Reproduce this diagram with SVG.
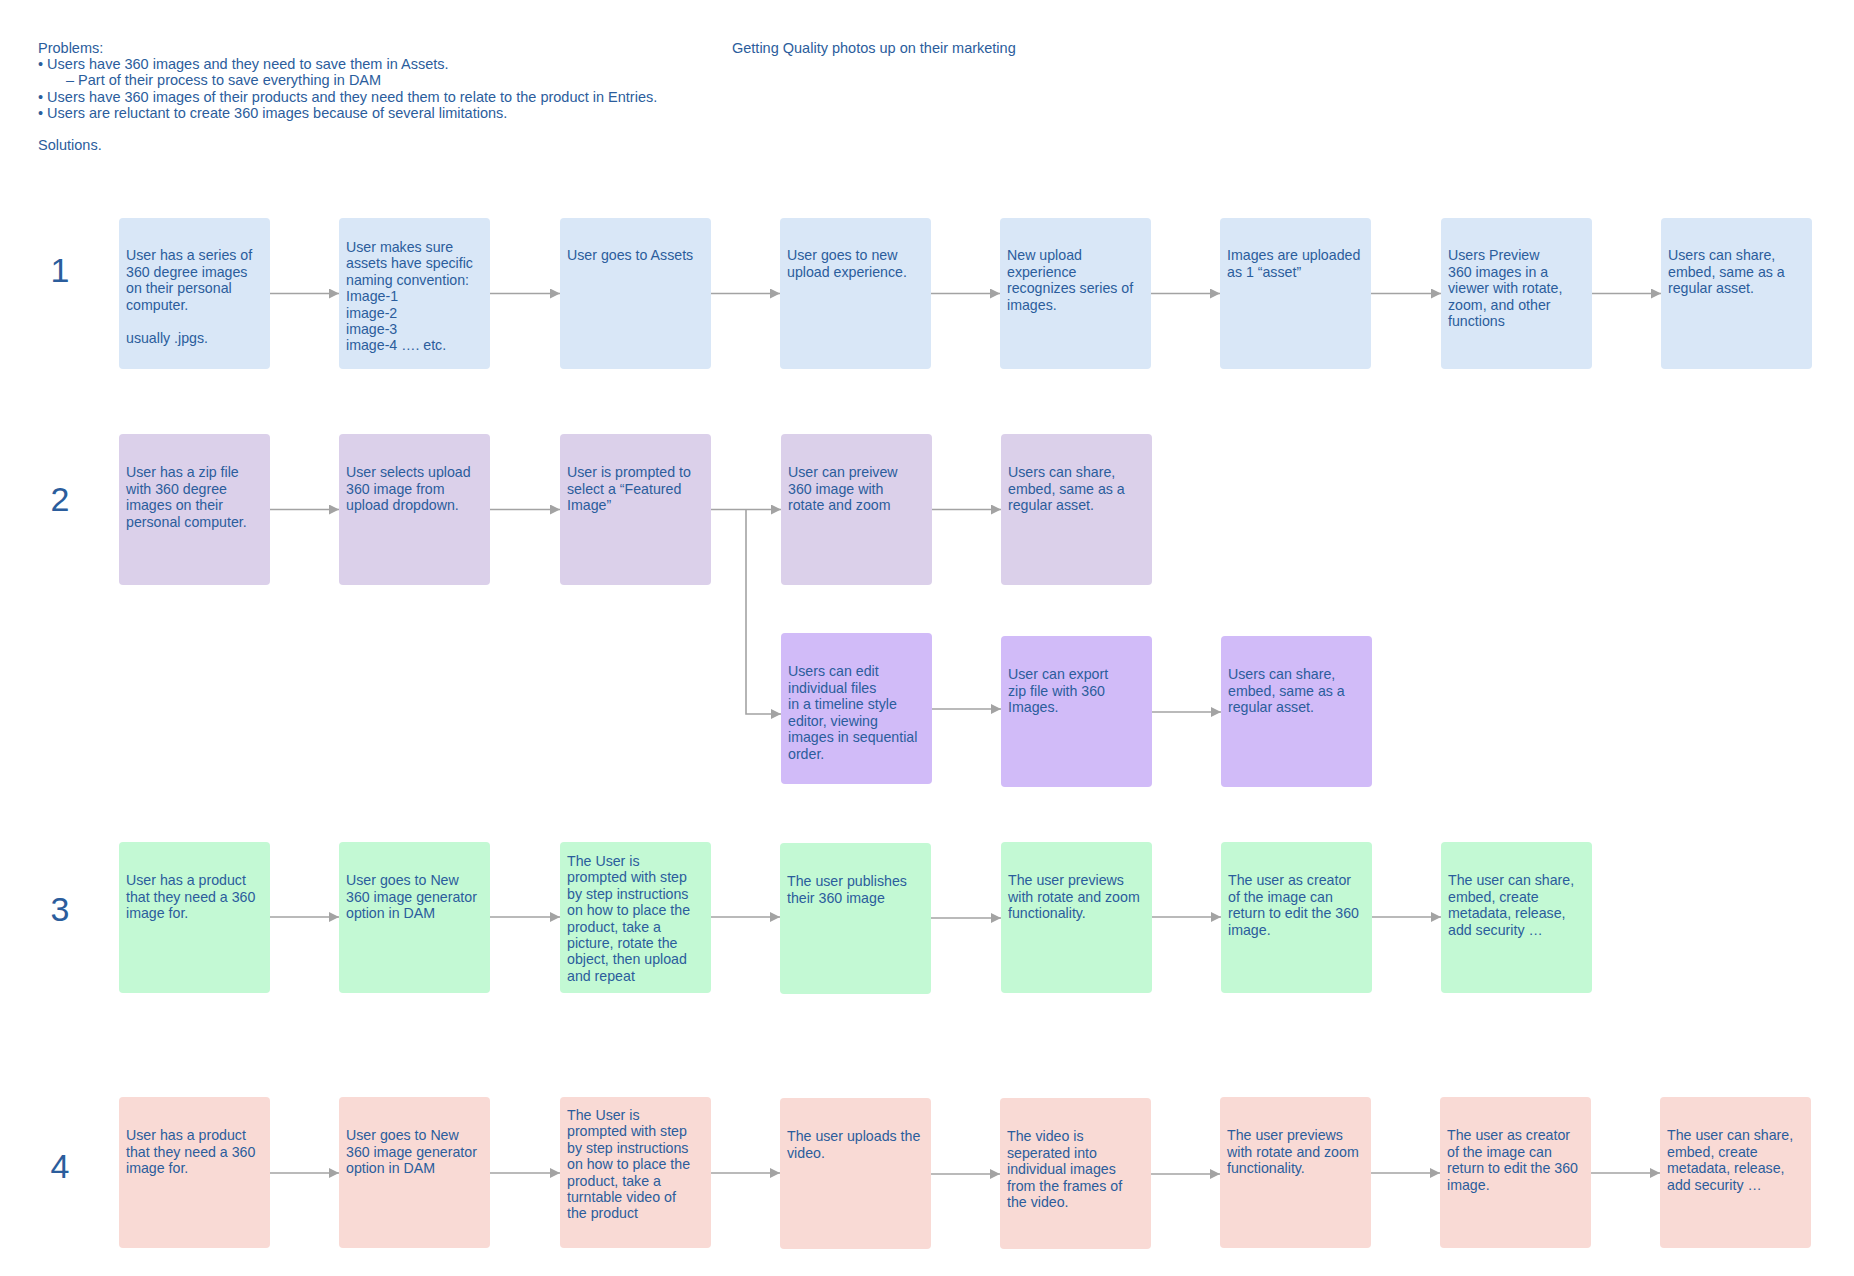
<svg xmlns="http://www.w3.org/2000/svg" width="1854" height="1276" viewBox="0 0 1854 1276">
<style>
text{font-family:"Liberation Sans",Arial,sans-serif;fill:#2b5d9c}
.t{font-size:14.2px}
.h{font-size:14.5px}
.num{font-size:34px;text-anchor:middle}
.r1{fill:#d9e7f7}
.r2{fill:#dbd0ea}
.r2b{fill:#d1bbf8}
.r3{fill:#c3f9d4}
.r4{fill:#f9dad5}
.c{fill:none;stroke:#a3a3a3;stroke-width:1.6}
</style>
<defs>
<marker id="ah" viewBox="0 0 10 10" refX="10" refY="5" markerWidth="10" markerHeight="10" markerUnits="userSpaceOnUse" orient="auto">
<path d="M0,0 L10,5 L0,10 Z" fill="#a3a3a3"/>
</marker>
</defs>
<rect width="1854" height="1276" fill="#ffffff"/>

<g id="header">
<text class="h" x="38" y="53">Problems:</text>
<text class="h" x="38" y="69">• Users have 360 images and they need to save them in Assets.</text>
<text class="h" x="66" y="85">– Part of their process to save everything in DAM</text>
<text class="h" x="38" y="102">• Users have 360 images of their products and they need them to relate to the product in Entries.</text>
<text class="h" x="38" y="118">• Users are reluctant to create 360 images because of several limitations.</text>
<text class="h" x="38" y="150">Solutions.</text>
<text class="h" x="732" y="53">Getting Quality photos up on their marketing</text>
</g>

<g id="row-numbers">
<text class="num" x="60" y="282">1</text>
<text class="num" x="60" y="511">2</text>
<text class="num" x="60" y="921">3</text>
<text class="num" x="60" y="1178">4</text>
</g>

<g id="connectors">
<path class="c" d="M270,293.5 H339" marker-end="url(#ah)"/>
<path class="c" d="M490,293.5 H560" marker-end="url(#ah)"/>
<path class="c" d="M711,293.5 H780" marker-end="url(#ah)"/>
<path class="c" d="M931,293.5 H1000" marker-end="url(#ah)"/>
<path class="c" d="M1151,293.5 H1220" marker-end="url(#ah)"/>
<path class="c" d="M1371,293.5 H1441" marker-end="url(#ah)"/>
<path class="c" d="M1592,293.5 H1661" marker-end="url(#ah)"/>

<path class="c" d="M270,509.5 H339" marker-end="url(#ah)"/>
<path class="c" d="M490,509.5 H560" marker-end="url(#ah)"/>
<path class="c" d="M711,509.5 H781" marker-end="url(#ah)"/>
<path class="c" d="M746,509.5 V714 H781" marker-end="url(#ah)"/>
<path class="c" d="M932,509.5 H1001" marker-end="url(#ah)"/>
<path class="c" d="M932,709 H1001" marker-end="url(#ah)"/>
<path class="c" d="M1152,712 H1221" marker-end="url(#ah)"/>

<path class="c" d="M270,917 H339" marker-end="url(#ah)"/>
<path class="c" d="M490,917 H560" marker-end="url(#ah)"/>
<path class="c" d="M711,917 H780" marker-end="url(#ah)"/>
<path class="c" d="M931,918 H1001" marker-end="url(#ah)"/>
<path class="c" d="M1152,917 H1221" marker-end="url(#ah)"/>
<path class="c" d="M1372,917 H1441" marker-end="url(#ah)"/>

<path class="c" d="M270,1173 H339" marker-end="url(#ah)"/>
<path class="c" d="M490,1173 H560" marker-end="url(#ah)"/>
<path class="c" d="M711,1173 H780" marker-end="url(#ah)"/>
<path class="c" d="M931,1174 H1000" marker-end="url(#ah)"/>
<path class="c" d="M1151,1174 H1220" marker-end="url(#ah)"/>
<path class="c" d="M1371,1173 H1440" marker-end="url(#ah)"/>
<path class="c" d="M1591,1173 H1660" marker-end="url(#ah)"/>
</g>

<!-- Row 1 -->
<g id="n1-1"><rect class="r1" x="119" y="218" width="151" height="151" rx="4"/>
<text class="t" x="126" y="260">User has a series of</text><text class="t" x="126" y="276.5">360 degree images</text><text class="t" x="126" y="293">on their personal</text><text class="t" x="126" y="309.5">computer.</text><text class="t" x="126" y="342.5">usually .jpgs.</text></g>
<g id="n1-2"><rect class="r1" x="339" y="218" width="151" height="151" rx="4"/>
<text class="t" x="346" y="252">User makes sure</text><text class="t" x="346" y="268.4">assets have specific</text><text class="t" x="346" y="284.8">naming convention:</text><text class="t" x="346" y="301.2">Image-1</text><text class="t" x="346" y="317.6">image-2</text><text class="t" x="346" y="334">image-3</text><text class="t" x="346" y="350.4">image-4 …. etc.</text></g>
<g id="n1-3"><rect class="r1" x="560" y="218" width="151" height="151" rx="4"/>
<text class="t" x="567" y="260">User goes to Assets</text></g>
<g id="n1-4"><rect class="r1" x="780" y="218" width="151" height="151" rx="4"/>
<text class="t" x="787" y="260">User goes to new</text><text class="t" x="787" y="276.5">upload experience.</text></g>
<g id="n1-5"><rect class="r1" x="1000" y="218" width="151" height="151" rx="4"/>
<text class="t" x="1007" y="260">New upload</text><text class="t" x="1007" y="276.5">experience</text><text class="t" x="1007" y="293">recognizes series of</text><text class="t" x="1007" y="309.5">images.</text></g>
<g id="n1-6"><rect class="r1" x="1220" y="218" width="151" height="151" rx="4"/>
<text class="t" x="1227" y="260">Images are uploaded</text><text class="t" x="1227" y="276.5">as 1 “asset”</text></g>
<g id="n1-7"><rect class="r1" x="1441" y="218" width="151" height="151" rx="4"/>
<text class="t" x="1448" y="260">Users Preview</text><text class="t" x="1448" y="276.5">360 images in a</text><text class="t" x="1448" y="293">viewer with rotate,</text><text class="t" x="1448" y="309.5">zoom, and other</text><text class="t" x="1448" y="326">functions</text></g>
<g id="n1-8"><rect class="r1" x="1661" y="218" width="151" height="151" rx="4"/>
<text class="t" x="1668" y="260">Users can share,</text><text class="t" x="1668" y="276.5">embed, same as a</text><text class="t" x="1668" y="293">regular asset.</text></g>

<!-- Row 2 -->
<g id="n2-1"><rect class="r2" x="119" y="434" width="151" height="151" rx="4"/>
<text class="t" x="126" y="477">User has a zip file</text><text class="t" x="126" y="493.5">with 360 degree</text><text class="t" x="126" y="510">images on their</text><text class="t" x="126" y="526.5">personal computer.</text></g>
<g id="n2-2"><rect class="r2" x="339" y="434" width="151" height="151" rx="4"/>
<text class="t" x="346" y="477">User selects upload</text><text class="t" x="346" y="493.5">360 image from</text><text class="t" x="346" y="510">upload dropdown.</text></g>
<g id="n2-3"><rect class="r2" x="560" y="434" width="151" height="151" rx="4"/>
<text class="t" x="567" y="477">User is prompted to</text><text class="t" x="567" y="493.5">select a “Featured</text><text class="t" x="567" y="510">Image”</text></g>
<g id="n2-4"><rect class="r2" x="781" y="434" width="151" height="151" rx="4"/>
<text class="t" x="788" y="477">User can preivew</text><text class="t" x="788" y="493.5">360 image with</text><text class="t" x="788" y="510">rotate and zoom</text></g>
<g id="n2-5"><rect class="r2" x="1001" y="434" width="151" height="151" rx="4"/>
<text class="t" x="1008" y="477">Users can share,</text><text class="t" x="1008" y="493.5">embed, same as a</text><text class="t" x="1008" y="510">regular asset.</text></g>
<g id="n2-6"><rect class="r2b" x="781" y="633" width="151" height="151" rx="4"/>
<text class="t" x="788" y="676">Users can edit</text><text class="t" x="788" y="692.5">individual files</text><text class="t" x="788" y="709">in a timeline style</text><text class="t" x="788" y="725.5">editor, viewing</text><text class="t" x="788" y="742">images in sequential</text><text class="t" x="788" y="758.5">order.</text></g>
<g id="n2-7"><rect class="r2b" x="1001" y="636" width="151" height="151" rx="4"/>
<text class="t" x="1008" y="679">User can export</text><text class="t" x="1008" y="695.5">zip file with 360</text><text class="t" x="1008" y="712">Images.</text></g>
<g id="n2-8"><rect class="r2b" x="1221" y="636" width="151" height="151" rx="4"/>
<text class="t" x="1228" y="679">Users can share,</text><text class="t" x="1228" y="695.5">embed, same as a</text><text class="t" x="1228" y="712">regular asset.</text></g>

<!-- Row 3 -->
<g id="n3-1"><rect class="r3" x="119" y="842" width="151" height="151" rx="4"/>
<text class="t" x="126" y="885">User has a product</text><text class="t" x="126" y="901.5">that they need a 360</text><text class="t" x="126" y="918">image for.</text></g>
<g id="n3-2"><rect class="r3" x="339" y="842" width="151" height="151" rx="4"/>
<text class="t" x="346" y="885">User goes to New</text><text class="t" x="346" y="901.5">360 image generator</text><text class="t" x="346" y="918">option in DAM</text></g>
<g id="n3-3"><rect class="r3" x="560" y="842" width="151" height="151" rx="4"/>
<text class="t" x="567" y="866">The User is</text><text class="t" x="567" y="882.4">prompted with step</text><text class="t" x="567" y="898.8">by step instructions</text><text class="t" x="567" y="915.2">on how to place the</text><text class="t" x="567" y="931.6">product, take a</text><text class="t" x="567" y="948">picture, rotate the</text><text class="t" x="567" y="964.4">object, then upload</text><text class="t" x="567" y="980.8">and repeat</text></g>
<g id="n3-4"><rect class="r3" x="780" y="843" width="151" height="151" rx="4"/>
<text class="t" x="787" y="886">The user publishes</text><text class="t" x="787" y="902.5">their 360 image</text></g>
<g id="n3-5"><rect class="r3" x="1001" y="842" width="151" height="151" rx="4"/>
<text class="t" x="1008" y="885">The user previews</text><text class="t" x="1008" y="901.5">with rotate and zoom</text><text class="t" x="1008" y="918">functionality.</text></g>
<g id="n3-6"><rect class="r3" x="1221" y="842" width="151" height="151" rx="4"/>
<text class="t" x="1228" y="885">The user as creator</text><text class="t" x="1228" y="901.5">of the image can</text><text class="t" x="1228" y="918">return to edit the 360</text><text class="t" x="1228" y="934.5">image.</text></g>
<g id="n3-7"><rect class="r3" x="1441" y="842" width="151" height="151" rx="4"/>
<text class="t" x="1448" y="885">The user can share,</text><text class="t" x="1448" y="901.5">embed, create</text><text class="t" x="1448" y="918">metadata, release,</text><text class="t" x="1448" y="934.5">add security …</text></g>

<!-- Row 4 -->
<g id="n4-1"><rect class="r4" x="119" y="1097" width="151" height="151" rx="4"/>
<text class="t" x="126" y="1140">User has a product</text><text class="t" x="126" y="1156.5">that they need a 360</text><text class="t" x="126" y="1173">image for.</text></g>
<g id="n4-2"><rect class="r4" x="339" y="1097" width="151" height="151" rx="4"/>
<text class="t" x="346" y="1140">User goes to New</text><text class="t" x="346" y="1156.5">360 image generator</text><text class="t" x="346" y="1173">option in DAM</text></g>
<g id="n4-3"><rect class="r4" x="560" y="1097" width="151" height="151" rx="4"/>
<text class="t" x="567" y="1120">The User is</text><text class="t" x="567" y="1136.4">prompted with step</text><text class="t" x="567" y="1152.8">by step instructions</text><text class="t" x="567" y="1169.2">on how to place the</text><text class="t" x="567" y="1185.6">product, take a</text><text class="t" x="567" y="1202">turntable video of</text><text class="t" x="567" y="1218.4">the product</text></g>
<g id="n4-4"><rect class="r4" x="780" y="1098" width="151" height="151" rx="4"/>
<text class="t" x="787" y="1141">The user uploads the</text><text class="t" x="787" y="1157.5">video.</text></g>
<g id="n4-5"><rect class="r4" x="1000" y="1098" width="151" height="151" rx="4"/>
<text class="t" x="1007" y="1141">The video is</text><text class="t" x="1007" y="1157.5">seperated into</text><text class="t" x="1007" y="1174">individual images</text><text class="t" x="1007" y="1190.5">from the frames of</text><text class="t" x="1007" y="1207">the video.</text></g>
<g id="n4-6"><rect class="r4" x="1220" y="1097" width="151" height="151" rx="4"/>
<text class="t" x="1227" y="1140">The user previews</text><text class="t" x="1227" y="1156.5">with rotate and zoom</text><text class="t" x="1227" y="1173">functionality.</text></g>
<g id="n4-7"><rect class="r4" x="1440" y="1097" width="151" height="151" rx="4"/>
<text class="t" x="1447" y="1140">The user as creator</text><text class="t" x="1447" y="1156.5">of the image can</text><text class="t" x="1447" y="1173">return to edit the 360</text><text class="t" x="1447" y="1189.5">image.</text></g>
<g id="n4-8"><rect class="r4" x="1660" y="1097" width="151" height="151" rx="4"/>
<text class="t" x="1667" y="1140">The user can share,</text><text class="t" x="1667" y="1156.5">embed, create</text><text class="t" x="1667" y="1173">metadata, release,</text><text class="t" x="1667" y="1189.5">add security …</text></g>
</svg>
